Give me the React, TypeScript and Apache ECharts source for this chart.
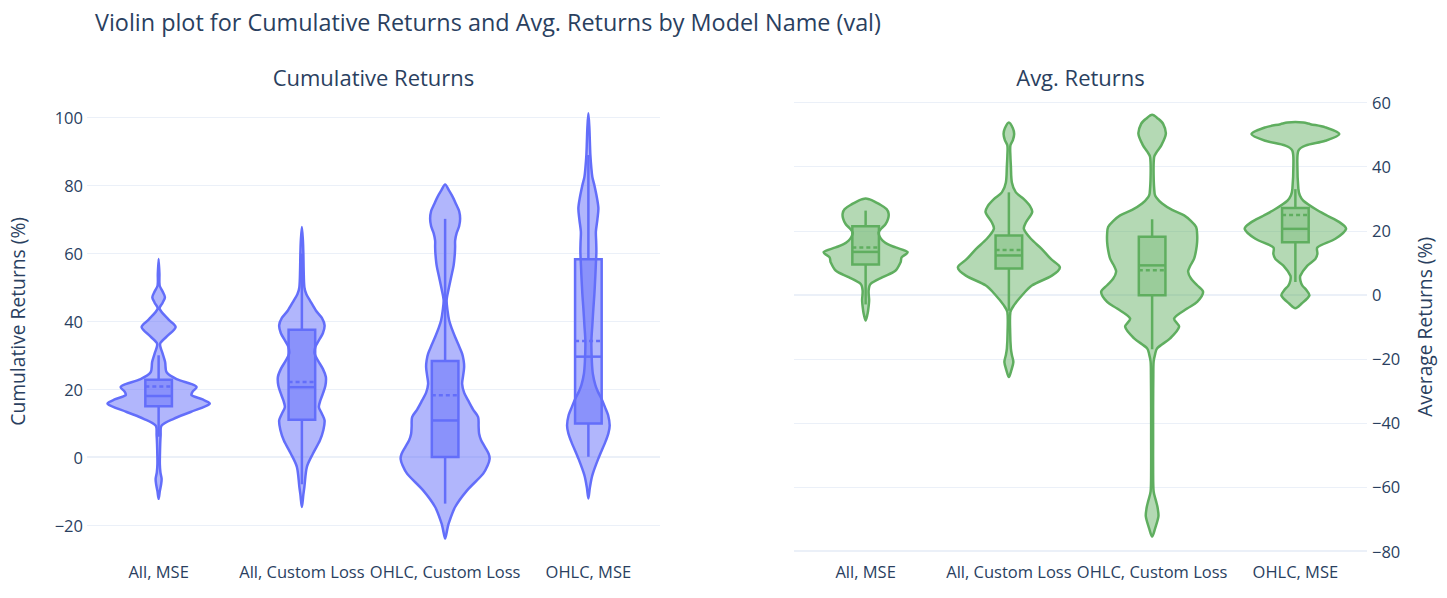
import React, { useEffect, useRef } from "react";
import * as echarts from "echarts";

type Pair = [number, number];

// ---------- categories ----------
const categories = ["All, MSE", "All, Custom Loss", "OHLC, Custom Loss", "OHLC, MSE"];

// ---------- tick values ----------
const cumTicks = { min: -20, max: 100, interval: 20 };
const avgTicks = { min: -80, max: 60, interval: 20 };

// ---------- Cumulative Returns: violin density profiles [value, density] ----------
const cumAllMse: Pair[] = [
  [-12.3, 0], [-10, 1.2], [-8, 2.5], [-6.4, 3], [-4.5, 1.8], [-2, 1.2], [0.5, 1.3], [4, 1.6],
  [6.4, 2], [9.3, 3], [11.3, 15], [13.3, 32], [15.7, 51], [17, 44], [18.2, 33], [19.3, 34],
  [20.6, 38], [21.5, 33], [23, 18], [25, 8], [28, 6.5], [30.5, 4], [33.4, 1.5], [35.5, 8],
  [38.3, 17], [40.5, 10], [43.7, 1], [45.5, 4], [47.1, 6.3], [48.8, 4], [50.6, 1], [54, 0.8], [58.4, 0],
];
const cumAllCustom: Pair[] = [
  [-14.7, 0], [-11, 1.5], [-8.8, 2.5], [-2.9, 5], [1.0, 11], [4.9, 18], [8, 21.5], [10.8, 22.7],
  [12.8, 20], [14.7, 17], [16.7, 18.5], [18.7, 21], [21, 23.5], [23.6, 24], [26, 21], [28.5, 16],
  [30.5, 12.7], [32.5, 13.5], [34.4, 17], [36.5, 21], [38.8, 22.7], [41, 20], [43.2, 14], [46.2, 8],
  [48, 4.5], [50.1, 2.5], [55, 1.8], [59.9, 1.5], [64, 1], [67.8, 0],
];
const cumOhlcCustom: Pair[] = [
  [-24, 0], [-21.5, 2], [-19.6, 3.5], [-14.7, 10], [-9.8, 22], [-4.9, 38], [-2.5, 42.5], [-0.5, 44.5],
  [1, 43.5], [2.9, 40], [5, 36], [6.9, 34], [9, 33.5], [11.8, 33], [14, 28], [16.7, 23], [19, 19],
  [21.6, 17], [24, 18], [26.5, 19], [28.5, 18.5], [30.5, 17], [33, 13.5], [35.4, 10], [38, 6.5],
  [40.3, 4], [43, 2.5], [46.2, 1.5], [49.5, 3.5], [53, 6], [56.5, 8.5], [59.9, 9.7], [62, 10],
  [63.8, 10], [66, 11.5], [68, 14], [70.2, 15], [72.5, 14], [74.5, 11], [76.6, 7.7], [78.5, 4], [80.3, 0],
];
const cumOhlcMse: Pair[] = [
  [-12.2, 0], [-9, 1.5], [-5.3, 4], [-0.4, 10], [4.5, 17], [7, 20], [9.4, 21.3], [12.4, 19.7],
  [14.8, 16.5], [17.3, 13], [19.3, 9.5], [21.2, 7], [24.5, 4.5], [28.1, 3.5], [34, 3], [39, 4],
  [43.8, 5], [48, 6], [53.6, 7], [57, 7.5], [60.5, 8], [63.5, 7.8], [66.4, 7.5], [70, 9], [73.3, 10],
  [76.5, 8.5], [80.1, 6], [82.5, 4], [85.1, 3], [89, 2], [92.9, 1.5], [97, 1], [101.3, 0],
];

// ---------- Cumulative Returns: box statistics ----------
const cumQ1 = [15.0, 11.0, 0.0, 9.9];
const cumMedian = [18.0, 20.6, 10.8, 29.6];
const cumQ3 = [22.8, 37.5, 28.3, 58.3];
const cumMean = [20.8, 22.1, 18.2, 34.2];
const cumLowerFence = [6, -8, -13.7, 0.1];
const cumUpperFence = [30, 60, 70.2, 89];

// ---------- Avg. Returns: violin density profiles [value, density] ----------
const avgAllMse: Pair[] = [
  [-8, 0], [-6.5, 1.5], [-4.9, 2.5], [-1.8, 3.5], [1.3, 3], [3.4, 5], [5.5, 17], [7.6, 30],
  [10.2, 35], [11.7, 36], [13.3, 42], [14.8, 30], [15.8, 22], [16.9, 17], [18.2, 14], [19.5, 13],
  [20.8, 16], [22.1, 20], [23.8, 22.5], [25.3, 23], [26.8, 21], [28.4, 13.3], [29.3, 8], [29.8, 4], [30.1, 0],
];
const avgAllCustom: Pair[] = [
  [-25.7, 0], [-23.5, 2.5], [-21, 4.5], [-18.8, 3], [-16.8, 2], [-11.7, 1.3], [-5.4, 1.5], [-3.3, 5],
  [-0.2, 13], [2.9, 23], [6, 43], [8.6, 51], [11.2, 42], [14.3, 33], [17.5, 22], [20.6, 15],
  [22.6, 17], [25.8, 23.3], [27.8, 21], [29.9, 15], [32, 7], [35.1, 3], [40.3, 2], [43.5, 1.5],
  [46.6, 1.5], [48.3, 4], [50.2, 5.3], [52, 4], [53.8, 0],
];
const avgOhlcCustom: Pair[] = [
  [-75.5, 0], [-72.9, 3], [-69.2, 6.3], [-66.5, 5.5], [-64.5, 4], [-61.4, 1.5], [-55, 1], [-45.8, 1],
  [-35, 1], [-25, 1.2], [-20.9, 1.5], [-18.5, 3], [-16.7, 5], [-13.6, 18], [-10, 27], [-7.4, 22],
  [-4.3, 35], [-2.2, 45], [0.9, 51], [3, 45], [5, 39], [7.2, 36], [9, 38], [11.3, 42], [14, 44],
  [16.5, 45], [19, 45], [21.2, 44], [23, 39], [24.8, 32], [26.5, 20], [28.5, 10], [30.5, 4],
  [31.6, 2.5], [37.3, 1.5], [43, 2], [44.8, 5], [46.6, 9], [50.3, 13.7], [53.4, 11], [55, 6], [56.2, 0],
];
const avgOhlcMse: Pair[] = [
  [-4.2, 0], [-2.8, 6], [-0.2, 14], [1.5, 11], [2.9, 7], [4.5, 5], [6, 5], [9.1, 12], [11.2, 20],
  [12.8, 22], [14.8, 22], [17.5, 40], [20.6, 50.7], [22.7, 44], [24.7, 32], [26.8, 20], [29.4, 8],
  [31, 4.5], [33.1, 3], [40.3, 2], [45, 3], [46.6, 10], [48.1, 30], [50.2, 44], [52.3, 30],
  [53.3, 15], [53.8, 8], [54.0, 0],
];

// ---------- Avg. Returns: box statistics ----------
const avgQ1 = [9.5, 8.2, -0.1, 16.4];
const avgMedian = [13.4, 12.3, 9.2, 20.6];
const avgQ3 = [21.4, 18.5, 18.1, 27.1];
const avgMean = [14.8, 14.0, 7.7, 24.9];
const avgLowerFence = [-3, -5, -17, 4];
const avgUpperFence = [26.3, 32, 23.6, 33];

const cumProfiles = [cumAllMse, cumAllCustom, cumOhlcCustom, cumOhlcMse];
const avgProfiles = [avgAllMse, avgAllCustom, avgOhlcCustom, avgOhlcMse];

const TEXT = "#2a3f5f";
const GRID = "#EBF0F8";
const FONT = '"Open Sans", verdana, arial, sans-serif';

type Stats = { q1: number[]; med: number[]; q3: number[]; mean: number[]; lf: number[]; uf: number[] };

function makeRender(profiles: Pair[][], st: Stats, line: string, fill: string, boxFill: string) {
  return (params: any, api: any) => {
    const i = api.value(0);
    const prof = profiles[i];
    const band = api.size([1, 0])[0];
    const k = band / 143.25;
    const cx = api.coord([i, 0])[0];
    const Y = (v: number) => api.coord([i, v])[1];
    const right = prof.map(([v, d]) => [cx + d * k, Y(v)]);
    const left = prof.slice(1, -1).reverse().map(([v, d]) => [cx - d * k, Y(v)]);
    const pts = right.concat(left);
    const bw = 13.3 * k;
    const yq1 = Y(st.q1[i]);
    const yq3 = Y(st.q3[i]);
    const ymed = Y(st.med[i]);
    const ymean = Y(st.mean[i]);
    const ylf = Y(st.lf[i]);
    const yuf = Y(st.uf[i]);
    const lw = 2.5;
    return {
      type: "group",
      children: [
        {
          type: "polygon",
          shape: { points: pts, smooth: 0.3 },
          style: { fill, stroke: line, lineWidth: lw, lineJoin: "round" },
        },
        {
          type: "line",
          shape: { x1: cx, y1: yuf, x2: cx, y2: yq3 },
          style: { stroke: line, lineWidth: lw },
        },
        {
          type: "line",
          shape: { x1: cx, y1: yq1, x2: cx, y2: ylf },
          style: { stroke: line, lineWidth: lw },
        },
        {
          type: "rect",
          shape: { x: cx - bw, y: yq3, width: 2 * bw, height: yq1 - yq3 },
          style: { fill: boxFill, stroke: line, lineWidth: lw },
        },
        {
          type: "line",
          shape: { x1: cx - bw, y1: ymed, x2: cx + bw, y2: ymed },
          style: { stroke: line, lineWidth: lw },
        },
        {
          type: "line",
          shape: { x1: cx - bw, y1: ymean, x2: cx + bw, y2: ymean },
          style: { stroke: line, lineWidth: lw, lineDash: [4, 3] },
        },
      ],
    };
  };
}

export default function App() {
  const ref = useRef<HTMLDivElement>(null);
  useEffect(() => {
    if (!ref.current) return;
    const chart = echarts.init(ref.current, undefined, { renderer: "svg" });
    const blue = "#636efa";
    const green = "#5fae5f";
    const axisLabel = { color: TEXT, fontSize: 16.5, fontFamily: FONT };
    const negFmt = (v: number) => (v < 0 ? "\u2212" + Math.abs(v) : String(v));
    const option: any = {
      animation: false,
      backgroundColor: "#ffffff",
      textStyle: { fontFamily: FONT },
      grid: [
        { left: 87, top: 117.7, width: 573, height: 407.3 },
        { left: 794, top: 102.7, width: 573, height: 448.3 },
      ],
      xAxis: [
        {
          type: "category", gridIndex: 0, data: categories, boundaryGap: true,
          axisLine: { show: false }, axisTick: { show: false }, splitLine: { show: false },
          axisLabel: { ...axisLabel, margin: 38, interval: 0 },
        },
        {
          type: "category", gridIndex: 1, data: categories, boundaryGap: true,
          axisLine: { show: false }, axisTick: { show: false }, splitLine: { show: false },
          axisLabel: { ...axisLabel, margin: 12, interval: 0 },
        },
      ],
      yAxis: [
        {
          type: "value", gridIndex: 0, min: cumTicks.min, max: cumTicks.max, interval: cumTicks.interval,
          position: "left",
          name: "Cumulative Returns (%)", nameLocation: "middle", nameRotate: 90, nameGap: 60,
          nameTextStyle: { color: TEXT, fontSize: 19.25, fontFamily: FONT },
          axisLine: { show: false }, axisTick: { show: false },
          axisLabel: { ...axisLabel, margin: 4, formatter: negFmt },
          splitLine: { lineStyle: { color: GRID, width: 1 } },
        },
        {
          type: "value", gridIndex: 1, min: avgTicks.min, max: avgTicks.max, interval: avgTicks.interval,
          position: "right",
          name: "Average Returns (%)", nameLocation: "middle", nameRotate: 90, nameGap: 48,
          nameTextStyle: { color: TEXT, fontSize: 19.25, fontFamily: FONT },
          axisLine: { show: false }, axisTick: { show: false },
          axisLabel: { ...axisLabel, margin: 5, formatter: negFmt },
          splitLine: { lineStyle: { color: GRID, width: 1 } },
        },
      ],
      graphic: [
        {
          type: "text", x: 95, y: 22,
          style: { text: "Violin plot for Cumulative Returns and Avg. Returns by Model Name (val)", fill: TEXT, fontSize: 23.4, fontFamily: FONT, verticalAlign: "middle" },
        },
        {
          type: "text", x: 373.5, y: 77,
          style: { text: "Cumulative Returns", fill: TEXT, fontSize: 22, fontFamily: FONT, align: "center", verticalAlign: "middle" },
        },
        {
          type: "text", x: 1080.5, y: 77,
          style: { text: "Avg. Returns", fill: TEXT, fontSize: 22, fontFamily: FONT, align: "center", verticalAlign: "middle" },
        },
      ],
      series: [
        {
          type: "line", xAxisIndex: 0, yAxisIndex: 0, data: [], silent: true, z: 1,
          markLine: { silent: true, z: 1, symbol: "none", label: { show: false }, lineStyle: { color: GRID, width: 2, type: "solid" }, data: [{ yAxis: 0 }] },
        },
        {
          type: "line", xAxisIndex: 1, yAxisIndex: 1, data: [], silent: true, z: 1,
          markLine: { silent: true, z: 1, symbol: "none", label: { show: false }, lineStyle: { color: GRID, width: 2, type: "solid" }, data: [{ yAxis: 0 }, { yAxis: -80 }] },
        },
        {
          type: "custom", xAxisIndex: 0, yAxisIndex: 0, z: 10,
          renderItem: makeRender(cumProfiles, { q1: cumQ1, med: cumMedian, q3: cumQ3, mean: cumMean, lf: cumLowerFence, uf: cumUpperFence }, blue, "rgba(99,110,250,0.5)", "rgba(99,110,250,0.5)"),
          data: categories.map((_, i) => [i, cumMedian[i]]),
          encode: { x: 0, y: 1 },
        },
        {
          type: "custom", xAxisIndex: 1, yAxisIndex: 1, z: 10,
          renderItem: makeRender(avgProfiles, { q1: avgQ1, med: avgMedian, q3: avgQ3, mean: avgMean, lf: avgLowerFence, uf: avgUpperFence }, green, "rgba(95,174,95,0.47)", "rgba(95,174,95,0.3)"),
          data: categories.map((_, i) => [i, avgMedian[i]]),
          encode: { x: 0, y: 1 },
        },
      ],
    };
    chart.setOption(option);
    return () => chart.dispose();
  }, []);
  return <div ref={ref} style={{ position: "fixed", left: 0, top: 0, width: 1447, height: 598, background: "#fff" }} />;
}
